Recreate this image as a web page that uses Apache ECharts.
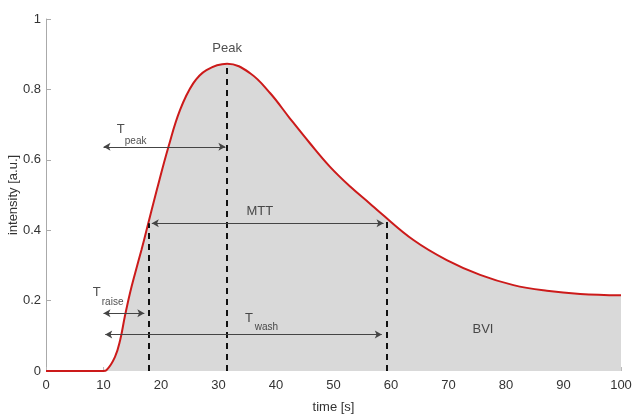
<!DOCTYPE html>
<html>
<head>
<meta charset="utf-8">
<script src="https://cdn.jsdelivr.net/npm/echarts@6/dist/echarts.min.js"></script>
<style>html,body{margin:0;padding:0;background:#fff}#c{width:633px;height:415px}</style>
</head>
<body>
<div id="c"></div>
<script>
// Curve: time [s] and intensity [a.u.]
const curveTime = [0, 10, 10.5, 12, 12.9, 13.7, 14.6, 15.5, 16.6, 17.5, 19.3, 21.3, 23.3, 25.6, 27.9, 31.5, 35.5, 39, 42.4, 45.9, 49.4, 52.9, 56.3, 58.1, 63.9, 69.7, 75.5, 81.3, 87.1, 92.9, 100];
const curveIntensity = [0, 0, 0.002, 0.04, 0.088, 0.154, 0.221, 0.278, 0.344, 0.401, 0.516, 0.637, 0.741, 0.817, 0.855, 0.873, 0.846, 0.789, 0.718, 0.647, 0.58, 0.524, 0.476, 0.45, 0.372, 0.315, 0.273, 0.244, 0.228, 0.219, 0.215];

// Dashed markers: [time, top intensity]
const dashedMarkers = [[17.8, 0.42], [31.5, 0.87], [59.3, 0.425]];

// Double arrows: [startTime, endTime, intensity]
const arrows = [[10, 31.2, 0.637], [18.4, 58.7, 0.42], [10, 17.1, 0.164], [10.3, 58.4, 0.104]];

// Text labels: [time, intensity, text, kind]
const labels = [
  [31.5, 0.915, 'Peak', 'main'],
  [13.0, 0.685, 'T', 'main'],
  [13.7, 0.652, 'peak', 'sub'],
  [37.2, 0.452, 'MTT', 'main'],
  [8.8, 0.222, 'T', 'main'],
  [9.7, 0.196, 'raise', 'sub'],
  [35.3, 0.150, 'T', 'main'],
  [36.3, 0.124, 'wash', 'sub'],
  [76.0, 0.117, 'BVI', 'main']
];

const xTicks = [0, 10, 20, 30, 40, 50, 60, 70, 80, 90, 100];
const yTicks = [0, 0.2, 0.4, 0.6, 0.8, 1];

const FONT = '"Liberation Sans", Arial, sans-serif';
const chart = echarts.init(document.getElementById('c'), null, {renderer: 'canvas'});

const curveData = curveTime.map((t, i) => [t, curveIntensity[i]]);

const option = {
  animation: false,
  grid: {left: 46, right: 12, top: 19, bottom: 44, containLabel: false, outerBoundsMode: 'none'},
  xAxis: {
    type: 'value', min: 0, max: 100, interval: 10,
    name: 'time [s]', nameLocation: 'middle', nameGap: 30, nameMoveOverlap: false,
    nameTextStyle: {fontFamily: FONT, fontSize: 13, color: '#333'},
    axisLine: {show: false},
    axisTick: {show: true, inside: true, length: 4, lineStyle: {color: '#bbb'}},
    axisLabel: {fontFamily: FONT, fontSize: 13, color: '#333', margin: 8,
      formatter: v => xTicks.includes(v) ? String(v) : ''},
    splitLine: {show: false}
  },
  yAxis: {
    type: 'value', min: 0, max: 1, interval: 0.2,
    name: 'intensity [a.u.]', nameLocation: 'middle', nameGap: 26, nameMoveOverlap: false,
    nameTextStyle: {fontFamily: FONT, fontSize: 13, color: '#333'},
    axisLine: {show: true, lineStyle: {color: '#aaa', width: 1}},
    axisTick: {show: true, inside: true, length: 5, lineStyle: {color: '#aaa'}},
    axisLabel: {fontFamily: FONT, fontSize: 13, color: '#333', margin: 5,
      formatter: v => { const m = yTicks.find(t => Math.abs(t - v) < 1e-9); return m === undefined ? '' : String(m); }},
    splitLine: {show: false}
  },
  series: [
    {
      type: 'line', data: curveData, smooth: 0.4,
      showSymbol: false, symbol: 'none',
      lineStyle: {color: '#cc1a1a', width: 2},
      areaStyle: {color: '#d9d9d9', opacity: 1},
      z: 2
    },
    {
      type: 'line', data: [], silent: true, z: 3,
      markLine: {
        silent: true, symbol: ['none', 'none'],
        label: {show: false},
        lineStyle: {color: '#111', width: 2, type: [6, 5]},
        data: dashedMarkers.map(m => [{coord: [m[0], 0]}, {coord: [m[0], m[1]]}])
      }
    },
    {
      type: 'line', data: [], silent: true, z: 4,
      markLine: {
        silent: true, symbol: ['arrow', 'arrow'], symbolSize: [6, 7],
        label: {show: false},
        lineStyle: {color: '#444', width: 1, type: 'solid'},
        data: arrows.map(a => [{coord: [a[0], a[2]]}, {coord: [a[1], a[2]]}])
      }
    },
    {
      type: 'scatter', symbolSize: 0, silent: true, z: 5,
      data: labels.map(l => ({
        value: [l[0], l[1]], name: l[2],
        label: {fontSize: l[3] === 'sub' ? 10 : 13, align: l[3] === 'sub' ? 'left' : 'center', verticalAlign: 'middle'}
      })),
      label: {
        show: true, position: 'inside',
        formatter: p => p.name,
        fontFamily: FONT, color: '#222'
      }
    }
  ]
};
chart.setOption(option);
</script>
</body>
</html>
